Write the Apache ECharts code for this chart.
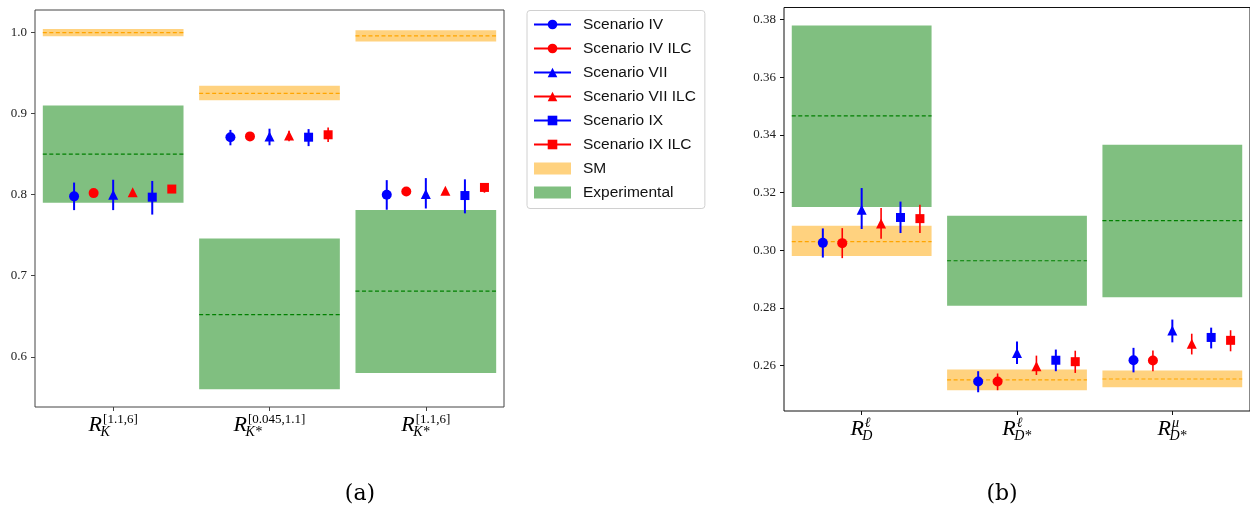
<!DOCTYPE html>
<html>
<head>
<meta charset="utf-8">
<script src="https://cdn.jsdelivr.net/npm/echarts@6/dist/echarts.min.js"></script>
<style>
  html, body { margin: 0; padding: 0; background: #fff; }
  #chart { width: 1250px; height: 510px; }
</style>
</head>
<body>
<div id="chart"></div>
<script>
// ---------- panel (a): R_K and R_K* ----------
const subA = ['K', 'K*', 'K*']
const supA = ['[1.1,6]', '[0.045,1.1]', '[1.1,6]']
const ticksA = [0.6, 0.7, 0.8, 0.9, 1.0]
const smA = [1.000, 0.925, 0.996]
const smLoA = [0.9955, 0.9165, 0.989]
const smHiA = [1.0045, 0.9345, 1.003]
const expA = [0.850, 0.652, 0.681]
const expLoA = [0.790, 0.560, 0.580]
const expHiA = [0.910, 0.746, 0.781]

const ivA = [0.798, 0.871, 0.800]
const ivLoA = [0.781, 0.861, 0.7815]
const ivHiA = [0.815, 0.880, 0.818]
const ivIlcA = [0.802, 0.872, 0.804]
const ivIlcLoA = [0.8005, 0.8705, 0.8025]
const ivIlcHiA = [0.8035, 0.8735, 0.8055]
const viiA = [0.800, 0.872, 0.801]
const viiLoA = [0.781, 0.861, 0.783]
const viiHiA = [0.8185, 0.8815, 0.8205]
const viiIlcA = [0.803, 0.873, 0.805]
const viiIlcLoA = [0.801, 0.866, 0.803]
const viiIlcHiA = [0.805, 0.879, 0.807]
const ixA = [0.797, 0.871, 0.799]
const ixLoA = [0.7755, 0.860, 0.777]
const ixHiA = [0.817, 0.881, 0.819]
const ixIlcA = [0.807, 0.874, 0.809]
const ixIlcLoA = [0.805, 0.865, 0.8025]
const ixIlcHiA = [0.809, 0.883, 0.813]

// ---------- panel (b): R_D and R_D* ----------
const subB = ['D', 'D*', 'D*']
const supB = ['ℓ', 'ℓ', 'μ']
const ticksB = [0.26, 0.28, 0.30, 0.32, 0.34, 0.36, 0.38]
const smB = [0.303, 0.2551, 0.2554]
const smLoB = [0.298, 0.2515, 0.2525]
const smHiB = [0.3085, 0.2587, 0.2583]
const expB = [0.3466, 0.2964, 0.3103]
const expLoB = [0.315, 0.2808, 0.2837]
const expHiB = [0.378, 0.312, 0.3366]

const ivB = [0.3026, 0.2545, 0.2619]
const ivLoB = [0.2975, 0.2508, 0.2577]
const ivHiB = [0.3076, 0.2581, 0.2662]
const ivIlcB = [0.3025, 0.2545, 0.2618]
const ivIlcLoB = [0.2973, 0.2515, 0.2581]
const ivIlcHiB = [0.3077, 0.2573, 0.2653]
const viiB = [0.3141, 0.2644, 0.2722]
const viiLoB = [0.3074, 0.2606, 0.2681]
const viiHiB = [0.3216, 0.2684, 0.2760]
const viiIlcB = [0.3093, 0.2598, 0.2676]
const viiIlcLoB = [0.3040, 0.2568, 0.2639]
const viiIlcHiB = [0.3147, 0.2635, 0.2711]
const ixB = [0.3114, 0.2619, 0.2698]
const ixLoB = [0.3060, 0.2581, 0.2660]
const ixHiB = [0.3169, 0.2656, 0.2732]
const ixIlcB = [0.3110, 0.2614, 0.2688]
const ixIlcLoB = [0.3060, 0.2575, 0.2650]
const ixIlcHiB = [0.3158, 0.2652, 0.2723]

const yMin = [0.538, 0.2443]
const yMax = [1.028, 0.3842]

const BLUE = '#0000ff', RED = '#ff0000'
const scenarios = [
    { name: 'Scenario IV', color: BLUE, symbol: 'circle', size: 10, off: -0.25, bw: 2, a: [ivA, ivLoA, ivHiA], b: [ivB, ivLoB, ivHiB] },
    { name: 'Scenario IV ILC', color: RED, symbol: 'circle', size: 10, off: -0.125, bw: 1.6, a: [ivIlcA, ivIlcLoA, ivIlcHiA], b: [ivIlcB, ivIlcLoB, ivIlcHiB] },
    { name: 'Scenario VII', color: BLUE, symbol: 'triangle', size: 10, off: 0, bw: 2, a: [viiA, viiLoA, viiHiA], b: [viiB, viiLoB, viiHiB] },
    { name: 'Scenario VII ILC', color: RED, symbol: 'triangle', size: 10, off: 0.125, bw: 1.6, a: [viiIlcA, viiIlcLoA, viiIlcHiA], b: [viiIlcB, viiIlcLoB, viiIlcHiB] },
    { name: 'Scenario IX', color: BLUE, symbol: 'rect', size: 9, off: 0.25, bw: 2, a: [ixA, ixLoA, ixHiA], b: [ixB, ixLoB, ixHiB] },
    { name: 'Scenario IX ILC', color: RED, symbol: 'rect', size: 9, off: 0.375, bw: 1.6, a: [ixIlcA, ixIlcLoA, ixIlcHiA], b: [ixIlcB, ixIlcLoB, ixIlcHiB] },
]

const SM_FILL = '#ffd27f', SM_LINE = '#ffa500'
const EXP_FILL = '#80bf80', EXP_LINE = '#008000'

// shaded band with a dashed centre line, spanning +-0.45 around each category
function bandSeries(name, gi, mid, lo, hi, fill, dash, z) {
    return {
        type: 'custom', name, xAxisIndex: gi, yAxisIndex: gi, z,
        itemStyle: { color: fill },
        data: mid.map((m, i) => [i, m, lo[i], hi[i]]),
        renderItem(params, api) {
            const i = api.value(0)
            const p1 = api.coord([i - 0.45, api.value(3)])
            const p2 = api.coord([i + 0.45, api.value(2)])
            const pm = api.coord([i, api.value(1)])
            return {
                type: 'group', children: [
                    { type: 'rect', shape: { x: p1[0], y: p1[1], width: p2[0] - p1[0], height: p2[1] - p1[1] }, style: { fill } },
                    { type: 'line', shape: { x1: p1[0], y1: pm[1], x2: p2[0], y2: pm[1] }, style: { stroke: dash, lineWidth: 1.2, lineDash: [4, 2.5] } }
                ]
            }
        }
    }
}

function errSeries(sc, gi, d) {
    const [vals, lo, hi] = d
    return {
        type: 'custom', name: sc.name + ' err', xAxisIndex: gi, yAxisIndex: gi, z: 3,
        data: vals.map((v, i) => [i + sc.off, lo[i], hi[i]]),
        renderItem(params, api) {
            const a = api.coord([api.value(0), api.value(1)])
            const b = api.coord([api.value(0), api.value(2)])
            return { type: 'line', shape: { x1: a[0], y1: a[1], x2: b[0], y2: b[1] }, style: { stroke: sc.color, lineWidth: sc.bw } }
        }
    }
}

function markerSeries(sc, gi, d) {
    const vals = d[0]
    const data = []
    vals.forEach((v, i) => {
        if (i) data.push([i + sc.off, null])
        data.push([i + sc.off, v])
    })
    return {
        type: 'line', name: sc.name, xAxisIndex: gi, yAxisIndex: gi, z: 4,
        symbol: sc.symbol, symbolSize: sc.size, showSymbol: true, connectNulls: false,
        itemStyle: { color: sc.color, borderWidth: 0 },
        lineStyle: { color: sc.color, width: 2 },
        emphasis: { disabled: true },
        data
    }
}

const series = []
;[0, 1].forEach(gi => {
    if (gi === 0) {
        series.push(bandSeries('Experimental', 0, expA, expLoA, expHiA, EXP_FILL, EXP_LINE, 1))
        series.push(bandSeries('SM', 0, smA, smLoA, smHiA, SM_FILL, SM_LINE, 1))
    } else {
        series.push(bandSeries('Experimental', 1, expB, expLoB, expHiB, EXP_FILL, EXP_LINE, 1))
        series.push(bandSeries('SM', 1, smB, smLoB, smHiB, SM_FILL, SM_LINE, 1))
    }
    scenarios.forEach(sc => {
        const d = gi === 0 ? sc.a : sc.b
        series.push(errSeries(sc, gi, d))
        series.push(markerSeries(sc, gi, d))
    })
})

const tickFont = { fontFamily: 'Liberation Serif', fontSize: 13, color: '#222' }

function xAxisOf(gi, color) {
    return {
        gridIndex: gi, type: 'value', min: -0.5, max: 2.5, position: 'bottom',
        splitLine: { show: false }, axisLine: { show: false, onZero: false },
        axisTick: { show: true, customValues: [0, 1, 2], length: 4, lineStyle: { color } },
        axisLabel: { show: false }
    }
}
function yAxisOf(gi, ticks, digits, color) {
    return {
        gridIndex: gi, type: 'value', min: yMin[gi], max: yMax[gi], position: 'left',
        splitLine: { show: false }, axisLine: { show: false, onZero: false },
        axisTick: { show: true, customValues: ticks, length: 4, lineStyle: { color } },
        axisLabel: Object.assign({ customValues: ticks, margin: 8, formatter: v => v.toFixed(digits) }, tickFont)
    }
}

const chart = echarts.init(document.getElementById('chart'))
chart.setOption({
    animation: false,
    grid: [
        { left: 35, top: 10, width: 469, height: 397, show: true, borderColor: '#444', borderWidth: 1 },
        { left: 784, top: 7.5, width: 467, height: 403.5, show: true, borderColor: '#111', borderWidth: 1 }
    ],
    xAxis: [xAxisOf(0, '#444'), xAxisOf(1, '#111')],
    yAxis: [yAxisOf(0, ticksA, 1, '#444'), yAxisOf(1, ticksB, 2, '#111')],
    legend: {
        orient: 'vertical', left: 527, top: 10.5,
        padding: [6, 9, 8, 6], itemGap: 8, itemWidth: 37, itemHeight: 12,
        borderColor: '#d0d0d0', borderWidth: 1, borderRadius: 3, backgroundColor: '#fff',
        textStyle: { fontFamily: 'Liberation Sans', fontSize: 15.5, color: '#111', padding: [0, 0, 0, 7], lineHeight: 14 },
        data: scenarios.map(s => s.name).concat([
            { name: 'SM', icon: 'rect', itemStyle: { color: SM_FILL } },
            { name: 'Experimental', icon: 'rect', itemStyle: { color: EXP_FILL } }
        ])
    },
    series
})

// math-style category labels (R with stacked sub/superscript)
const ctx = document.createElement('canvas').getContext('2d')
function tw(font, s) { ctx.font = font; return ctx.measureText(s).width }
const fR = 'italic 22px "Liberation Serif"'
const fSub = 'italic 14px "Liberation Serif"'
const fSupRoman = '13px "Liberation Serif"'
const fSupItalic = 'italic 14px "Liberation Serif"'

function txt(x, y, text, font) {
    return { type: 'text', x, y, silent: true, style: { text, font, fill: '#000', align: 'left', verticalAlign: 'middle', textAlign: 'left', textVerticalAlign: 'middle' } }
}
function mathLabel(gi, i, sub, sup, supFont) {
    const [x, yb] = chart.convertToPixel({ gridIndex: gi }, [i, yMin[gi]])
    const rW = tw(fR, 'R')
    const subW = tw(fSub, sub), supW = tw(supFont, sup)
    const total = rW + Math.max(subW - 1, supW + 1)
    const x0 = x - total / 2
    return [
        txt(x0, yb + 18.5, 'R', fR),
        txt(x0 + rW + 1, yb + 12.5, sup, supFont),
        txt(x0 + rW - 1.5, yb + 25, sub, fSub)
    ]
}

let graphics = []
subA.forEach((s, i) => { graphics = graphics.concat(mathLabel(0, i, s, supA[i], fSupRoman)) })
subB.forEach((s, i) => { graphics = graphics.concat(mathLabel(1, i, s, supB[i], fSupItalic)) })
graphics.push({ type: 'text', x: 360, y: 494, silent: true, style: { text: '(a)', font: '22px "DejaVu Serif"', fill: '#000', align: 'center', verticalAlign: 'middle', textAlign: 'center', textVerticalAlign: 'middle' } })
graphics.push({ type: 'text', x: 1002, y: 494, silent: true, style: { text: '(b)', font: '22px "DejaVu Serif"', fill: '#000', align: 'center', verticalAlign: 'middle', textAlign: 'center', textVerticalAlign: 'middle' } })

chart.setOption({ graphic: graphics })
</script>
</body>
</html>
